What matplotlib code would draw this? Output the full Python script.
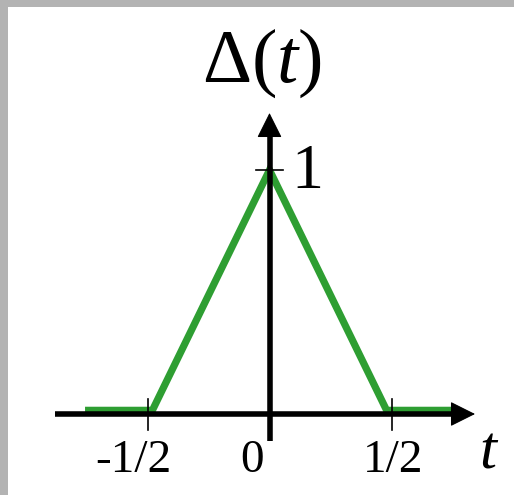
import matplotlib
matplotlib.use("Agg")
import matplotlib.pyplot as plt
from matplotlib.patches import Rectangle

plt.rcParams["mathtext.fontset"] = "custom"
plt.rcParams["mathtext.rm"] = "Liberation Serif"
plt.rcParams["mathtext.it"] = "Liberation Serif:italic"
plt.rcParams["font.family"] = ["Liberation Serif", "DejaVu Serif"]

# Triangle pulse Δ(t)
t_vals = [-0.756, -0.48, 0.0, 0.48, 0.773]
delta_vals = [0.015, 0.015, 1.0, 0.015, 0.015]

tick_pos = [-0.5, 0.5]
tick_labels = ["-1/2", "1/2"]
zero_label = "0"

W, H = 514, 495
fig = plt.figure(figsize=(W / 100, H / 100), dpi=100)
ax = fig.add_axes([0, 0, 1, 1])
ax.set_axis_off()

# data <-> pixel mapping: 244 px per unit, origin at (269.5, 414) from top-left
sx = 244.0
x0, y0 = 269.5, 414.0
ax.set_xlim(-x0 / sx, (W - x0) / sx)
ax.set_ylim(-(H - y0) / sx, y0 / sx)

# frame strips
fig.patches.append(Rectangle((0, 1 - 7 / H), 1, 7 / H, transform=fig.transFigure,
                             facecolor="#b3b3b3", edgecolor="none", zorder=0))
fig.patches.append(Rectangle((0, 0), 8 / W, 1, transform=fig.transFigure,
                             facecolor="#b3b3b3", edgecolor="none", zorder=0))

# signal
ax.plot(t_vals, delta_vals, color="#2e9e32", lw=5.2, solid_joinstyle="miter",
        solid_capstyle="butt", zorder=2)

# axes: shaft lines plus arrowheads
head_len = 17 / sx
x_tip = (475 - x0) / sx
y_tip = (y0 - 113) / sx
ax.plot([(55 - x0) / sx, x_tip - head_len + 0.01], [0, 0], color="black",
        lw=4.0, solid_capstyle="butt", zorder=3)
ax.plot([0, 0], [(y0 - 441) / sx, y_tip - head_len + 0.01], color="black",
        lw=4.0, solid_capstyle="butt", zorder=3)
head_kw = dict(arrowstyle="-|>,head_length=0.8,head_width=0.4", lw=0.8,
               color="black", shrinkA=0, shrinkB=0, mutation_scale=20)
ax.annotate("", xy=(x_tip, 0), xytext=(x_tip - head_len, 0),
            arrowprops=head_kw, zorder=3)
ax.annotate("", xy=(0, y_tip), xytext=(0, y_tip - head_len),
            arrowprops=head_kw, zorder=3)

# ticks
tick_h = 15.5 / sx
for p in tick_pos:
    ax.plot([p, p], [-tick_h, tick_h], color="black", lw=1.2, zorder=4)
ax.plot([-13.5 / sx, 13.5 / sx], [1, 1], color="black", lw=1.2, zorder=4)

# labels
lab_y = (y0 - 472) / sx
for p, s in zip(tick_pos, tick_labels):
    ax.text(p - (0.057 if p < 0 else -0.006), lab_y, s, fontsize=34,
            ha="center", va="baseline")
ax.text(-0.072, lab_y, zero_label, fontsize=34, ha="center", va="baseline")
ax.text(0.088, (y0 - 188) / sx, "1", fontsize=46, ha="left", va="baseline")
ax.text(0.898, (y0 - 467) / sx, r"$t$", fontsize=44, ha="center", va="baseline")
ax.text(-0.033, (y0 - 82) / sx, r"$\Delta(t)$", fontsize=55, ha="center",
        va="baseline")

fig.savefig("out.png", dpi=100, facecolor="white")
